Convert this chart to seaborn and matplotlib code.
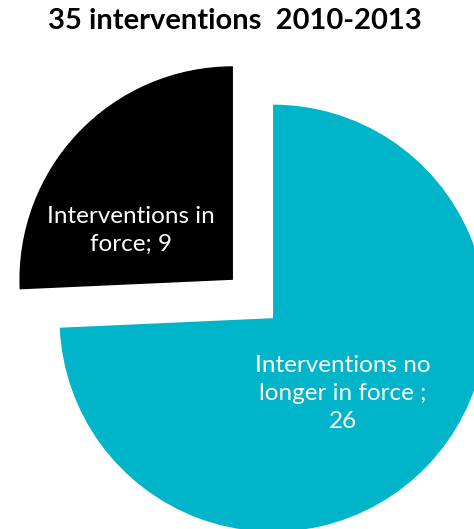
import matplotlib
matplotlib.use("Agg")
import matplotlib.pyplot as plt
import seaborn as sns

# data
labels = ["Interventions no\nlonger in force ;\n26", "Interventions in\nforce; 9"]
counts = [26, 9]
colors = ["#00B4C9", "#000000"]
explode = [0.13, 0.13]
title = "35 interventions  2010-2013"

sns.set_theme(style="white")
plt.rcParams["font.family"] = ["Lato", "DejaVu Sans"]

fig = plt.figure(figsize=(4.74, 5.29), dpi=100)
ax = fig.add_axes([0, 0, 1, 1])

wedges, texts = ax.pie(counts, labels=labels, colors=colors, explode=explode,
                       startangle=90, counterclock=False, labeldistance=0.48,
                       wedgeprops=dict(linewidth=0),
                       textprops=dict(color="white", fontsize=17.5, ha="center",
                                      va="center", linespacing=1.4))
# the small slice's label sits a bit left of its bisector
x, y = texts[1].get_position()
texts[1].set_position((x - 0.13, y - 0.1))
x, y = texts[0].get_position()
texts[0].set_position((x - 0.02, y - 0.02))

ax.set_aspect("equal")
ax.set_xlim(-1.185, 1.035)
ax.set_ylim(-1.077, 1.400)
ax.axis("off")

fig.text(0.495, 0.96, title, ha="center", va="center", fontsize=21,
         fontweight="bold", color="black")

fig.savefig("out.png", dpi=100, facecolor="white")
